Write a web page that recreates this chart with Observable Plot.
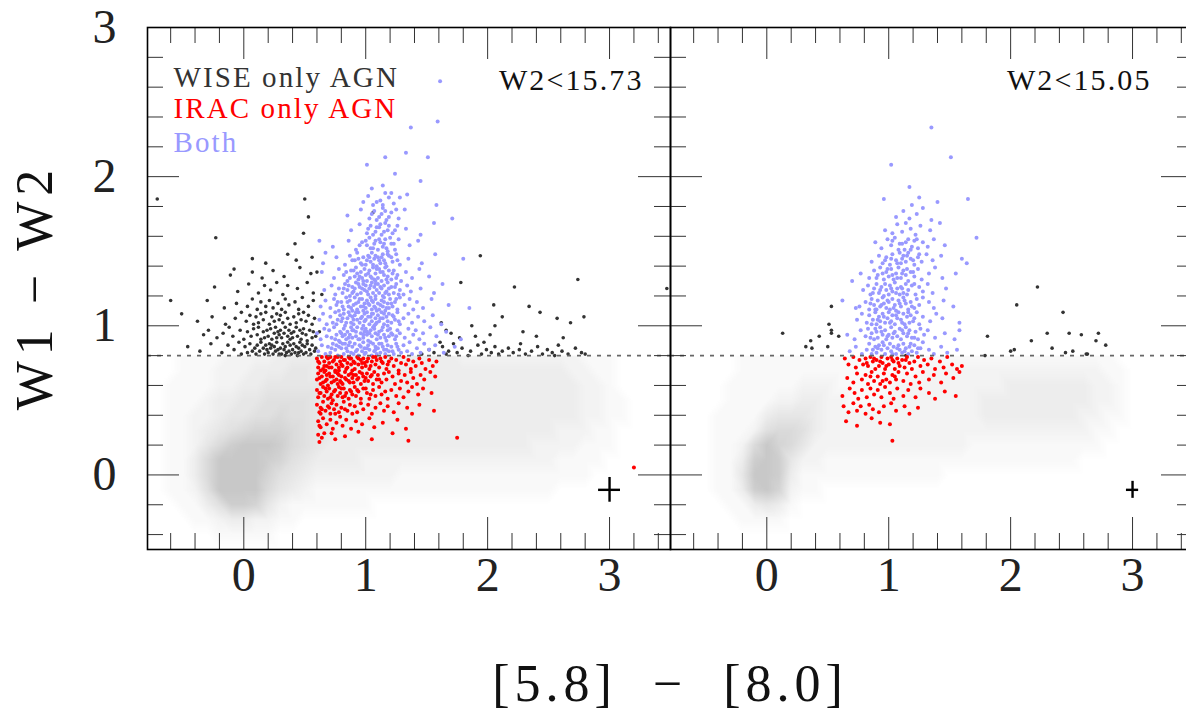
<!DOCTYPE html>
<html><head><meta charset="utf-8">
<script src="https://cdn.jsdelivr.net/npm/d3@7"></script>
<script src="https://cdn.jsdelivr.net/npm/@observablehq/plot@0.6"></script>
<style>
html,body{margin:0;padding:0;background:#fff;overflow:hidden;}
#wrap{position:relative;width:1200px;height:715px;}
#left,#right{position:absolute;top:0;}
#left{left:0;width:670px;} #right{left:670px;width:523px;}
.lbl{position:absolute;color:#111;font-family:"Liberation Serif",serif;white-space:pre;line-height:1;}
#xlab{left:670px;top:684px;font-size:52px;letter-spacing:5px;transform:translate(-50%,-50%);}
#ylab{left:35px;top:287px;font-size:52px;letter-spacing:6px;transform:translate(-50%,-50%) rotate(-90deg);}
</style></head><body>
<div id="wrap"><div id="left"></div><div id="right"></div>
<div class="lbl" id="xlab">[5.8]  −  [8.0]</div>
<div class="lbl" id="ylab">W1 − W2</div></div>
<script>
// ---------- axis / tick values ----------
const xDom = [-0.79, 3.5];
const yDom = [-0.5, 3];
const xMajor = [0, 1, 2, 3];
const xMinor = [-0.6,-0.4,-0.2,0.2,0.4,0.6,0.8,1.2,1.4,1.6,1.8,2.2,2.4,2.6,2.8,3.2,3.4];
const yMajor = [0, 1, 2, 3];
const yMinor = [-0.4,-0.2,0.2,0.4,0.6,0.8,1.2,1.4,1.6,1.8,2.2,2.4,2.6,2.8];
const wiseCut = 0.8;
const legendLabels = ["WISE only AGN", "IRAC only AGN", "Both"];
const legendColors = ["#333333", "#ff0000", "#9999ff"];
const cutLabels = ["W2<15.73", "W2<15.05"];

// ---------- typical error crosses ----------
const errX = [3.0, 3.0], errY = [-0.1, -0.1], errDX = [0.09, 0.05], errDY = [0.083, 0.057];

// ---------- gray background cloud: density levels (0-9) on a grid ----------
const fogX = [-0.8,-0.7,-0.6,-0.5,-0.4,-0.3,-0.2,-0.1,0,0.1,0.2,0.3,0.4,0.5,0.6,0.7,0.8,0.9,1,1.1,1.2,1.3,1.4,1.5,1.6,1.7,1.8,1.9,2,2.1,2.2,2.3,2.4,2.5,2.6,2.7,2.8,2.9,3,3.1,3.2,3.3,3.4,3.5];
const fogY = [0.8,0.7,0.6,0.5,0.4,0.3,0.2,0.1,0,-0.1,-0.2,-0.3,-0.4,-0.5];
const leftFog = [
"00011 11222 23333 33333 33333 32222 22222 21110 0000",
"00011 12223 33443 33333 33333 33333 33333 22110 0000",
"00111 12233 44444 43333 33333 33333 33333 32210 0000",
"00111 23344 55554 44333 33333 33333 33333 32211 0000",
"00112 23445 56554 43333 33333 33333 33333 32211 0000",
"00112 34567 77654 43333 33333 33333 33332 22110 0000",
"00112 46899 98654 33333 33333 33333 33222 21110 0000",
"00113 69999 87543 33322 22222 22222 22221 11100 0000",
"00113 69999 75432 22222 21111 11111 11111 11000 0000",
"00112 59999 64321 11111 11111 11111 11110 00000 0000",
"00011 35887 42111 11110 00000 00000 00000 00000 0000",
"00001 12332 21100 00000 00000 00000 00000 00000 0000",
"00000 01111 10000 00000 00000 00000 00000 00000 0000",
"00000 00000 00000 00000 00000 00000 00000 00000 0000"];
const rightFog = [
"00000 01111 11111 11111 11111 11111 11111 11000 0000",
"00000 01111 11111 11111 12222 22222 22222 21100 0000",
"00000 11111 12221 11112 22222 22233 33333 22100 0000",
"00000 11112 23322 11122 22222 23333 33333 22100 0000",
"00001 11134 44322 22222 22222 23333 33332 21100 0000",
"00001 11256 65322 22222 22222 22222 22222 11000 0000",
"00001 12697 64222 22222 22222 11111 11111 10000 0000",
"00001 13898 42211 11111 11111 11111 11110 00000 0000",
"00001 14998 31111 11111 11100 00000 00000 00000 0000",
"00001 13897 21100 00000 00000 00000 00000 00000 0000",
"00000 11343 10000 00000 00000 00000 00000 00000 0000",
"00000 01111 00000 00000 00000 00000 00000 00000 0000",
"00000 00000 00000 00000 00000 00000 00000 00000 0000",
"00000 00000 00000 00000 00000 00000 00000 00000 0000"];

// ---------- left panel (W2<15.73) ----------
const leftBoth = [
[0.61,0.83],[0.64,0.87],[0.67,0.81],[0.69,0.86],[0.71,0.82],[0.73,0.88],[0.75,0.84],[0.77,0.80],[0.78,0.86],[0.79,0.89],
[0.80,0.85],[0.82,0.81],[0.83,0.88],[0.85,0.83],[0.86,0.87],[0.88,0.82],[0.89,0.86],
[0.90,0.81],[0.91,0.88],[0.93,0.84],[0.94,0.80],[0.95,0.87],[0.97,0.83],[0.98,0.89],[0.99,0.85],
[1.00,0.82],[1.02,0.87],[1.03,0.84],[1.05,0.80],[1.06,0.88],[1.07,0.83],[1.08,0.86],[1.09,0.81],
[1.10,0.85],[1.12,0.82],[1.13,0.88],[1.15,0.84],[1.16,0.81],[1.18,0.87],[1.19,0.83],
[1.21,0.86],[1.23,0.81],[1.25,0.88],[1.27,0.84],[1.29,0.82],[1.31,0.87],[1.34,0.83],[1.36,0.89],[1.38,0.81],
[1.42,0.85],[1.45,0.82],[1.48,0.88],[1.52,0.84],[1.57,0.87],[1.64,0.82],[1.73,0.86],
[0.60,0.95],[0.63,0.91],[0.66,0.98],[0.68,0.93],[0.70,0.97],[0.72,0.92],[0.74,0.99],[0.76,0.94],[0.78,0.90],[0.79,0.96],
[0.81,0.93],[0.82,0.98],[0.84,0.91],[0.85,0.96],[0.87,0.94],[0.88,0.99],[0.89,0.92],
[0.90,0.97],[0.92,0.93],[0.93,0.99],[0.94,0.91],[0.96,0.95],[0.97,0.98],[0.98,0.92],[0.99,0.96],
[1.01,0.94],[1.02,0.90],[1.04,0.97],[1.05,0.93],[1.06,0.99],[1.08,0.95],[1.09,0.91],[1.00,0.98],
[1.11,0.96],[1.12,0.92],[1.14,0.99],[1.15,0.94],[1.17,0.90],[1.18,0.97],[1.19,0.93],
[1.20,0.98],[1.22,0.94],[1.24,0.91],[1.26,0.97],[1.28,0.95],[1.32,0.92],[1.35,0.98],[1.39,0.94],
[1.41,0.97],[1.44,0.91],[1.47,0.95],[1.53,0.99],[1.58,0.93],[1.66,0.96],[1.78,0.91],
[0.62,1.04],[0.65,1.08],[0.68,1.01],[0.71,1.06],[0.73,1.02],[0.75,1.09],[0.77,1.04],[0.79,1.07],
[0.80,1.03],[0.82,1.08],[0.83,1.00],[0.85,1.05],[0.86,1.09],[0.88,1.02],[0.89,1.06],
[0.90,1.01],[0.91,1.07],[0.93,1.04],[0.94,1.09],[0.95,1.02],[0.97,1.06],[0.98,1.00],[0.99,1.08],
[1.00,1.04],[1.01,1.09],[1.03,1.01],[1.04,1.06],[1.05,1.03],[1.06,1.08],[1.07,1.00],[1.08,1.05],[1.09,1.02],
[1.10,1.07],[1.11,1.03],[1.13,1.09],[1.14,1.05],[1.15,1.01],[1.17,1.06],[1.18,1.03],[1.19,1.08],
[1.21,1.02],[1.22,1.07],[1.24,1.04],[1.26,1.09],[1.28,1.01],[1.31,1.05],[1.35,1.08],[1.38,1.02],
[1.43,1.06],[1.48,1.03],[1.55,1.07],[1.62,1.01],
[0.63,1.13],[0.67,1.17],[0.71,1.12],[0.74,1.18],[0.76,1.14],[0.78,1.10],
[0.80,1.16],[0.82,1.11],[0.84,1.19],[0.86,1.13],[0.87,1.17],[0.89,1.10],
[0.90,1.14],[0.91,1.19],[0.93,1.11],[0.94,1.16],[0.96,1.13],[0.97,1.18],[0.98,1.10],[0.99,1.15],
[1.00,1.12],[1.01,1.17],[1.03,1.14],[1.04,1.19],[1.05,1.11],[1.06,1.16],[1.07,1.13],[1.08,1.18],[1.09,1.10],
[1.10,1.15],[1.11,1.11],[1.13,1.17],[1.14,1.13],[1.15,1.19],[1.16,1.10],[1.18,1.15],[1.19,1.12],
[1.20,1.18],[1.22,1.13],[1.24,1.16],[1.26,1.11],[1.28,1.19],[1.32,1.14],[1.36,1.18],[1.39,1.11],
[1.42,1.16],[1.47,1.12],[1.54,1.18],[1.68,1.14],
[0.66,1.24],[0.72,1.27],[0.75,1.21],[0.78,1.25],
[0.81,1.22],[0.83,1.28],[0.85,1.24],[0.87,1.20],[0.89,1.26],
[0.90,1.23],[0.92,1.29],[0.93,1.21],[0.95,1.26],[0.96,1.22],[0.98,1.28],[0.99,1.24],
[1.00,1.27],[1.02,1.21],[1.03,1.25],[1.05,1.29],[1.06,1.22],[1.07,1.26],[1.08,1.20],[1.09,1.24],
[1.10,1.28],[1.11,1.22],[1.13,1.25],[1.14,1.20],[1.15,1.27],[1.17,1.23],[1.18,1.29],[1.19,1.21],
[1.21,1.26],[1.23,1.22],[1.25,1.28],[1.28,1.24],[1.31,1.21],[1.34,1.27],[1.37,1.23],
[1.45,1.25],[1.56,1.22],[1.63,1.28],
[0.64,1.36],[0.74,1.32],[0.78,1.38],[0.82,1.34],[0.85,1.30],[0.88,1.37],
[0.91,1.33],[0.92,1.39],[0.94,1.31],[0.96,1.36],[0.97,1.32],[0.99,1.38],
[1.00,1.34],[1.01,1.30],[1.03,1.37],[1.04,1.33],[1.06,1.39],[1.07,1.31],[1.08,1.35],[1.09,1.38],
[1.10,1.32],[1.12,1.36],[1.13,1.30],[1.15,1.34],[1.16,1.39],[1.18,1.33],[1.19,1.37],
[1.21,1.31],[1.23,1.37],[1.26,1.34],[1.29,1.30],[1.33,1.36],[1.38,1.32],[1.44,1.38],[1.52,1.33],
[0.65,1.42],[0.76,1.46],[0.83,1.41],[0.87,1.47],
[0.91,1.44],[0.93,1.49],[0.96,1.42],[0.98,1.46],
[1.00,1.41],[1.02,1.47],[1.04,1.43],[1.05,1.49],[1.07,1.45],[1.09,1.40],
[1.10,1.46],[1.12,1.42],[1.14,1.48],[1.15,1.44],[1.17,1.40],[1.19,1.47],
[1.22,1.43],[1.25,1.48],[1.28,1.41],[1.35,1.45],[1.46,1.42],[1.57,1.48],
[0.73,1.53],[0.86,1.57],[0.92,1.51],[0.97,1.56],
[1.01,1.54],[1.03,1.59],[1.06,1.52],[1.08,1.57],
[1.10,1.51],[1.12,1.56],[1.14,1.53],[1.16,1.58],[1.18,1.50],
[1.21,1.55],[1.24,1.51],[1.27,1.58],[1.36,1.54],[1.43,1.57],
[0.88,1.64],[0.95,1.68],[1.01,1.62],[1.04,1.67],[1.08,1.63],
[1.11,1.66],[1.13,1.61],[1.16,1.69],[1.18,1.64],[1.22,1.62],[1.26,1.67],[1.33,1.65],[1.45,1.61],[1.56,1.69],
[0.85,1.74],[0.96,1.78],[1.03,1.72],[1.07,1.77],[1.11,1.73],[1.14,1.79],[1.17,1.71],[1.21,1.76],[1.27,1.72],[1.32,1.78],
[0.98,1.83],[1.02,1.87],[1.06,1.81],[1.12,1.84],[1.16,1.89],[1.23,1.82],[1.28,1.86],[1.34,1.88],[1.58,1.81],
[1.05,1.92],[1.14,1.94],
[1.61,2.64],[1.59,2.37],[1.37,2.33],[1.33,2.16],[1.51,2.13],[1.16,2.13],[1.01,2.08],[1.24,2.02],
[1.45,1.97],[1.71,1.72],[1.80,1.45],[1.85,1.12],[0.62,1.57],[0.67,1.49],
[0.81,0.88],[0.84,0.85],[0.87,0.89],[0.92,0.83],[0.96,0.86],[0.99,0.81],[1.01,0.85],[1.04,0.89],[1.08,0.84],[1.11,0.88],
[1.14,0.86],[1.17,0.84],[1.22,0.83],[1.26,0.86],[0.76,0.87],[0.72,0.85],
[0.80,0.95],[0.83,0.94],[0.86,0.92],[0.89,0.97],[0.92,0.96],[0.95,0.91],[0.98,0.94],[1.01,0.96],[1.03,0.95],[1.07,0.98],
[1.10,0.94],[1.13,0.97],[1.16,0.92],[1.21,0.95],[1.25,0.93],[0.75,0.91],
[0.81,1.05],[0.84,1.02],[0.87,1.07],[0.90,1.04],[0.92,1.09],[0.96,1.05],[0.99,1.03],[1.02,1.06],[1.05,1.08],[1.08,1.01],
[1.12,1.05],[1.15,1.08],[1.18,1.00],[1.23,1.06],[1.27,1.03],[0.76,1.01],
[0.81,1.13],[0.85,1.16],[0.88,1.12],[0.92,1.15],[0.95,1.18],[0.98,1.13],[1.02,1.15],[1.05,1.17],[1.08,1.12],[1.12,1.14],
[1.15,1.16],[1.17,1.12],[1.21,1.15],[1.25,1.18],[0.77,1.16],
[0.82,1.25],[0.86,1.27],[0.89,1.22],[0.91,1.25],[0.94,1.28],[0.97,1.25],[1.01,1.23],[1.04,1.27],[1.08,1.28],[1.12,1.26],
[1.16,1.22],[1.19,1.25],[1.24,1.26],[1.27,1.21],
[0.84,1.36],[0.87,1.32],[0.90,1.37],[0.93,1.35],[0.95,1.33],[0.98,1.30],[1.02,1.35],[1.05,1.32],[1.08,1.30],[1.11,1.38],
[1.14,1.36],[1.17,1.31],[1.22,1.35],[1.25,1.32],
[0.89,1.44],[0.94,1.45],[0.97,1.41],[1.01,1.44],[1.03,1.46],[1.06,1.41],[1.08,1.47],[1.11,1.44],[1.13,1.46],[1.16,1.42],
[1.18,1.48],[1.21,1.46],[1.26,1.44],
[0.95,1.54],[1.00,1.57],[1.04,1.52],[1.07,1.55],[1.11,1.58],[1.15,1.55],[1.17,1.52],[1.20,1.59],[1.23,1.55],
[1.02,1.65],[1.06,1.61],[1.09,1.66],[1.12,1.68],[1.15,1.63],[1.19,1.67],[1.24,1.64],
[1.05,1.75],[1.09,1.71],[1.13,1.75],[1.16,1.77],[1.19,1.73],[1.25,1.78],
[1.09,1.83],[1.14,1.81],[1.19,1.86],[1.21,1.89]];

const leftIrac = [
[0.60,0.78],[0.61,0.72],[0.62,0.75],[0.64,0.79],[0.65,0.71],[0.66,0.76],[0.68,0.73],[0.69,0.78],[0.67,0.70],
[0.70,0.75],[0.71,0.79],[0.72,0.72],[0.74,0.77],[0.75,0.70],[0.76,0.74],[0.77,0.79],[0.78,0.72],[0.79,0.76],
[0.80,0.79],[0.81,0.73],[0.83,0.77],[0.84,0.71],[0.85,0.75],[0.86,0.79],[0.88,0.74],[0.89,0.70],[0.87,0.78],
[0.90,0.76],[0.91,0.71],[0.93,0.79],[0.94,0.74],[0.96,0.77],[0.97,0.72],[0.98,0.78],[0.99,0.75],
[1.00,0.73],[1.02,0.78],[1.03,0.71],[1.05,0.76],[1.06,0.79],[1.08,0.74],[1.09,0.77],
[1.11,0.72],[1.12,0.78],[1.14,0.75],[1.16,0.79],[1.17,0.71],[1.19,0.76],
[1.21,0.78],[1.23,0.73],[1.25,0.77],[1.27,0.70],[1.29,0.75],
[1.31,0.79],[1.33,0.74],[1.35,0.77],[1.37,0.71],[1.39,0.76],
[1.41,0.73],[1.44,0.78],[1.46,0.75],[1.49,0.71],[1.52,0.77],[1.55,0.73],[1.58,0.76],
[0.60,0.64],[0.61,0.68],[0.63,0.61],[0.64,0.66],[0.66,0.69],[0.67,0.63],[0.68,0.67],[0.69,0.60],
[0.70,0.68],[0.72,0.62],[0.73,0.66],[0.75,0.69],[0.76,0.64],[0.77,0.61],[0.78,0.67],[0.79,0.63],
[0.80,0.66],[0.81,0.61],[0.83,0.69],[0.84,0.64],[0.86,0.67],[0.87,0.62],[0.88,0.68],[0.89,0.65],
[0.90,0.62],[0.92,0.67],[0.93,0.64],[0.95,0.69],[0.96,0.61],[0.98,0.66],[0.99,0.63],
[1.01,0.68],[1.02,0.63],[1.04,0.66],[1.06,0.61],[1.07,0.69],[1.09,0.64],
[1.10,0.67],[1.13,0.62],[1.15,0.68],[1.17,0.64],[1.19,0.69],
[1.22,0.66],[1.24,0.61],[1.27,0.68],[1.29,0.63],[1.32,0.67],[1.34,0.62],[1.37,0.69],[1.39,0.65],
[1.42,0.61],[1.45,0.67],[1.48,0.64],[1.53,0.69],[1.57,0.66],
[0.60,0.57],[0.61,0.52],[0.63,0.55],[0.65,0.59],[0.66,0.53],[0.68,0.56],[0.69,0.51],
[0.70,0.58],[0.72,0.54],[0.73,0.50],[0.75,0.57],[0.77,0.53],[0.78,0.59],[0.79,0.55],
[0.81,0.52],[0.82,0.58],[0.84,0.55],[0.86,0.51],[0.87,0.57],[0.89,0.54],
[0.91,0.59],[0.92,0.53],[0.94,0.56],[0.96,0.51],[0.98,0.58],
[1.01,0.55],[1.03,0.51],[1.06,0.57],[1.08,0.53],[1.11,0.59],[1.13,0.54],[1.16,0.56],[1.18,0.51],
[1.21,0.57],[1.25,0.53],[1.28,0.58],[1.31,0.52],[1.35,0.56],[1.38,0.59],[1.43,0.54],[1.47,0.58],[1.54,0.55],
[0.60,0.47],[0.62,0.42],[0.63,0.45],[0.65,0.49],[0.67,0.43],[0.69,0.46],
[0.71,0.41],[0.72,0.48],[0.74,0.44],[0.76,0.47],[0.78,0.42],
[0.80,0.45],[0.82,0.49],[0.85,0.43],[0.87,0.47],[0.89,0.41],
[0.91,0.46],[0.93,0.42],[0.96,0.48],[0.98,0.44],[1.02,0.47],[1.05,0.41],[1.08,0.45],
[1.12,0.48],[1.15,0.43],[1.18,0.46],[1.23,0.42],[1.27,0.48],[1.34,0.45],[1.38,0.41],[1.44,0.47],[1.56,0.43],
[0.61,0.36],[0.63,0.32],[0.65,0.38],[0.68,0.34],[0.71,0.37],[0.73,0.31],[0.76,0.35],[0.79,0.39],
[0.81,0.33],[0.84,0.37],[0.88,0.31],[0.92,0.36],[0.97,0.34],[1.03,0.38],[1.07,0.32],[1.14,0.35],[1.26,0.37],[1.33,0.31],
[0.61,0.27],[0.62,0.22],[0.64,0.25],[0.72,0.28],[0.75,0.24],[0.83,0.26],[0.94,0.29],[1.05,0.24],[1.22,0.28],
[1.35,0.23],[1.75,0.25],[3.20,0.05],
[0.61,0.76],[0.63,0.70],[0.66,0.73],[0.68,0.79],[0.70,0.72],[0.73,0.76],[0.75,0.79],[0.78,0.70],[0.80,0.74],[0.82,0.77],
[0.85,0.72],[0.88,0.78],[0.91,0.75],[0.94,0.78],[0.97,0.75],[1.01,0.76],[1.04,0.73],[1.08,0.79],[1.13,0.76],[1.18,0.74],
[0.62,0.65],[0.65,0.62],[0.68,0.64],[0.71,0.66],[0.74,0.63],[0.77,0.68],[0.80,0.62],[0.83,0.65],[0.86,0.63],[0.90,0.67],
[0.94,0.65],[0.97,0.68],[1.00,0.65],[1.05,0.67],[1.11,0.64],
[0.62,0.55],[0.67,0.58],[0.71,0.52],[0.74,0.56],[0.80,0.58],[0.83,0.53],[0.88,0.56],[0.93,0.57],[1.00,0.58],[1.04,0.54],
[0.64,0.44],[0.70,0.45],[0.75,0.41],[0.83,0.44],[0.63,0.41],[0.66,0.28],[0.62,0.33]];

const leftWise = [
[-0.46,0.86],[-0.36,0.83],[-0.27,0.88],[-0.18,0.82],[-0.13,0.87],[-0.08,0.84],[-0.04,0.89],[-0.02,0.81],
[0.01,0.86],[0.03,0.82],[0.05,0.88],[0.07,0.83],[0.09,0.85],
[0.10,0.81],[0.11,0.87],[0.13,0.83],[0.14,0.89],[0.16,0.85],[0.17,0.81],[0.18,0.87],[0.19,0.84],
[0.20,0.82],[0.21,0.88],[0.22,0.85],[0.24,0.81],[0.25,0.86],[0.26,0.83],[0.27,0.89],[0.28,0.84],[0.29,0.81],[0.23,0.87],
[0.30,0.85],[0.31,0.81],[0.32,0.88],[0.33,0.84],[0.34,0.86],[0.35,0.82],[0.36,0.89],[0.37,0.83],[0.38,0.87],[0.39,0.81],[0.34,0.80],
[0.40,0.84],[0.41,0.88],[0.42,0.82],[0.43,0.86],[0.44,0.80],[0.45,0.85],[0.46,0.89],[0.47,0.83],[0.48,0.87],[0.49,0.81],[0.45,0.82],
[0.50,0.86],[0.51,0.82],[0.52,0.88],[0.54,0.84],[0.55,0.81],[0.56,0.87],[0.58,0.83],[0.59,0.85],
[-0.33,0.94],[-0.29,0.97],[-0.22,0.92],[-0.17,0.95],[-0.12,0.99],[-0.09,0.93],[-0.03,0.97],
[0.00,0.91],[0.03,0.96],[0.06,0.93],[0.08,0.98],
[0.11,0.94],[0.12,0.99],[0.14,0.91],[0.16,0.96],[0.17,0.92],[0.19,0.97],
[0.20,0.93],[0.22,0.98],[0.23,0.91],[0.25,0.95],[0.26,0.99],[0.27,0.92],[0.28,0.96],[0.29,0.94],
[0.30,0.97],[0.31,0.92],[0.33,0.95],[0.34,0.99],[0.36,0.93],[0.37,0.97],[0.38,0.91],[0.39,0.95],
[0.40,0.92],[0.41,0.96],[0.43,0.99],[0.44,0.93],[0.46,0.97],[0.47,0.91],[0.48,0.95],[0.49,0.98],
[0.51,0.94],[0.52,0.90],[0.54,0.97],[0.56,0.92],[0.57,0.96],[0.59,0.93],
[-0.51,1.08],[-0.38,1.03],[-0.26,1.06],[-0.15,1.01],[-0.07,1.05],[-0.02,1.09],
[0.02,1.03],[0.05,1.07],[0.08,1.01],[0.10,1.06],[0.12,1.02],[0.14,1.08],[0.16,1.04],[0.18,1.09],
[0.21,1.01],[0.23,1.06],[0.25,1.03],[0.27,1.08],[0.29,1.04],[0.30,1.07],[0.32,1.02],[0.34,1.09],[0.36,1.05],[0.38,1.01],
[0.41,1.06],[0.43,1.02],[0.45,1.08],[0.47,1.04],[0.49,1.09],[0.51,1.03],[0.53,1.07],[0.56,1.01],[0.58,1.05],
[-0.30,1.17],[-0.16,1.12],[-0.06,1.15],[0.03,1.13],[0.07,1.18],[0.11,1.11],[0.14,1.16],[0.18,1.13],
[0.21,1.17],[0.24,1.12],[0.28,1.15],[0.31,1.11],[0.34,1.18],[0.37,1.14],[0.42,1.16],[0.45,1.11],[0.48,1.19],[0.53,1.13],[0.57,1.17],
[-0.24,1.26],[-0.05,1.23],[0.04,1.28],[0.12,1.22],[0.17,1.27],[0.22,1.24],[0.27,1.29],[0.32,1.21],[0.36,1.27],[0.44,1.25],[0.52,1.29],[0.57,1.22],
[-0.11,1.34],[-0.08,1.38],[0.07,1.36],[0.15,1.32],[0.24,1.37],[0.33,1.33],[0.46,1.39],[0.55,1.35],
[0.07,1.45],[0.18,1.42],[0.36,1.48],[0.43,1.44],[0.56,1.46],
[-0.71,1.85],[-0.23,1.59],[0.50,1.85],[0.53,1.73],[0.49,1.62],[0.42,1.55],[-0.60,1.17],[0.60,1.36],[0.64,1.21],[0.62,0.96],
[1.46,0.81],[1.52,0.84],[1.56,0.82],[1.63,0.86],[1.66,0.81],[1.68,0.83],[1.72,0.88],[1.75,0.82],[1.79,0.85],[1.84,0.80],
[1.86,0.83],[1.92,0.87],[1.95,0.81],[1.99,0.84],[2.03,0.82],[2.06,0.86],[2.09,0.81],[2.12,0.83],[2.17,0.85],[2.21,0.82],
[2.26,0.84],[2.31,0.81],[2.36,0.83],[2.41,0.86],[2.45,0.81],[2.49,0.84],[2.53,0.82],[2.55,0.80],[2.61,0.83],[2.66,0.81],
[2.72,0.85],[2.77,0.82],[2.80,0.81],[1.61,0.89],[1.97,0.89],[2.27,0.88],[2.58,0.87],
[1.70,0.95],[1.77,0.92],[1.87,1.00],[1.90,0.93],[2.06,1.00],[2.12,1.06],[2.02,0.94],[2.29,0.96],[2.34,1.13],[2.43,1.09],
[2.40,0.93],[2.57,1.05],[2.68,1.02],[2.79,1.06],[2.62,0.92],[2.05,1.14],[1.78,1.29],[2.22,1.26],[2.74,1.31],[1.94,1.47],
[3.47,1.25],[1.62,1.02],[1.66,0.97],[1.06,1.76]];

// ---------- right panel (W2<15.05) ----------
const rightBoth = [
[0.68,0.83],[0.73,0.86],[0.78,0.81],[0.82,0.84],[0.84,0.88],[0.86,0.81],[0.89,0.86],
[0.90,0.82],[0.92,0.87],[0.94,0.84],[0.95,0.89],[0.97,0.81],[0.99,0.85],
[1.01,0.88],[1.02,0.83],[1.04,0.86],[1.06,0.81],[1.08,0.87],[1.09,0.84],
[1.11,0.82],[1.12,0.88],[1.14,0.85],[1.16,0.81],[1.17,0.86],[1.19,0.83],
[1.21,0.87],[1.23,0.82],[1.26,0.85],[1.28,0.89],[1.33,0.84],[1.37,0.81],[1.43,0.86],[1.48,0.82],[1.56,0.84],
[0.66,0.94],[0.72,0.91],[0.77,0.97],[0.81,0.93],[0.83,0.98],[0.86,0.95],[0.88,0.91],
[0.90,0.96],[0.91,0.92],[0.93,0.99],[0.95,0.94],[0.97,0.97],[0.98,0.91],
[1.00,0.94],[1.02,0.99],[1.03,0.92],[1.05,0.96],[1.07,0.93],[1.09,0.98],
[1.10,0.91],[1.12,0.95],[1.14,0.99],[1.15,0.93],[1.17,0.97],[1.19,0.92],
[1.22,0.96],[1.24,0.91],[1.26,0.98],[1.29,0.94],[1.32,0.97],[1.38,0.92],[1.46,0.95],[1.54,0.91],
[0.74,1.04],[0.78,1.08],[0.82,1.02],[0.84,1.07],[0.87,1.04],[0.89,1.09],
[0.90,1.01],[0.92,1.06],[0.93,1.03],[0.95,1.08],[0.97,1.02],[0.99,1.05],
[1.00,1.09],[1.02,1.03],[1.03,1.07],[1.05,1.01],[1.07,1.05],[1.08,1.09],
[1.10,1.04],[1.12,1.08],[1.13,1.01],[1.15,1.06],[1.17,1.02],[1.18,1.07],
[1.21,1.05],[1.23,1.09],[1.25,1.01],[1.28,1.06],[1.34,1.03],[1.39,1.08],[1.44,1.05],[1.58,1.02],
[0.76,1.13],[0.81,1.16],[0.84,1.11],[0.86,1.18],[0.88,1.14],
[0.90,1.11],[0.91,1.17],[0.93,1.13],[0.95,1.19],[0.96,1.15],[0.98,1.12],
[1.00,1.16],[1.01,1.11],[1.03,1.18],[1.05,1.14],[1.06,1.10],[1.08,1.17],
[1.10,1.13],[1.12,1.19],[1.14,1.15],[1.16,1.11],[1.18,1.16],
[1.21,1.12],[1.23,1.18],[1.25,1.14],[1.28,1.19],[1.33,1.16],[1.37,1.12],[1.45,1.17],[1.53,1.13],
[0.79,1.24],[0.83,1.27],[0.85,1.21],[0.88,1.25],
[0.90,1.28],[0.92,1.22],[0.94,1.26],[0.96,1.20],[0.98,1.24],
[1.00,1.21],[1.01,1.27],[1.03,1.23],[1.05,1.29],[1.07,1.25],[1.09,1.21],
[1.10,1.26],[1.12,1.22],[1.14,1.28],[1.16,1.24],[1.19,1.27],
[1.22,1.21],[1.25,1.26],[1.28,1.23],[1.32,1.28],[1.36,1.22],[1.47,1.25],
[0.77,1.35],[0.84,1.32],[0.88,1.37],[0.91,1.34],[0.93,1.39],[0.96,1.31],[0.98,1.36],
[1.00,1.33],[1.02,1.38],[1.04,1.31],[1.06,1.35],[1.08,1.39],
[1.10,1.32],[1.12,1.37],[1.14,1.34],[1.16,1.30],[1.18,1.36],
[1.21,1.33],[1.24,1.38],[1.27,1.31],[1.33,1.35],[1.38,1.39],[1.44,1.32],
[0.86,1.43],[0.92,1.47],[0.95,1.42],[0.98,1.46],[1.01,1.41],[1.03,1.48],[1.06,1.44],[1.09,1.49],
[1.10,1.42],[1.12,1.47],[1.14,1.43],[1.16,1.49],[1.18,1.45],[1.21,1.41],[1.24,1.46],[1.27,1.43],
[1.31,1.48],[1.36,1.44],[1.43,1.47],
[0.89,1.56],[0.94,1.52],[0.99,1.58],[1.02,1.54],[1.05,1.59],[1.08,1.51],
[1.11,1.55],[1.13,1.51],[1.16,1.58],[1.19,1.53],[1.21,1.57],[1.24,1.52],[1.28,1.56],[1.32,1.53],[1.37,1.58],[1.46,1.54],
[0.97,1.64],[1.03,1.62],[1.07,1.68],[1.11,1.63],[1.14,1.69],[1.18,1.65],[1.22,1.61],[1.26,1.67],[1.34,1.64],[1.42,1.69],
[1.06,1.73],[1.12,1.77],[1.17,1.72],[1.23,1.75],[1.28,1.79],[1.35,1.71],
[0.96,1.85],[1.19,1.81],[1.25,1.86],[1.40,1.83],[1.65,1.85],
[1.35,2.33],[1.51,2.13],[1.02,2.08],[1.17,1.93],[1.72,1.59],[1.60,1.45],[1.55,1.35],[0.70,1.30],[0.73,1.12],
[0.62,1.17],[1.58,0.97],[1.64,1.42],
[0.87,0.84],[0.91,0.85],[0.96,0.87],[1.03,0.81],[1.07,0.85],[1.13,0.83],[1.18,0.88],[1.24,0.85],
[0.85,0.92],[0.89,0.98],[0.94,0.96],[0.99,0.93],[1.04,0.95],[1.11,0.97],[1.16,0.95],[1.21,0.92],
[0.86,1.01],[0.91,1.04],[0.96,1.06],[1.01,1.02],[1.06,1.07],[1.11,1.02],[1.16,1.09],[1.20,1.03],
[0.85,1.15],[0.89,1.11],[0.94,1.14],[0.99,1.17],[1.04,1.12],[1.09,1.15],[1.13,1.17],[1.19,1.13],
[0.87,1.22],[0.93,1.24],[0.97,1.28],[1.02,1.25],[1.06,1.22],[1.11,1.25],[1.15,1.21],[1.21,1.28],
[0.90,1.32],[0.95,1.35],[0.99,1.38],[1.03,1.34],[1.07,1.32],[1.11,1.35],[1.15,1.38],[1.20,1.36],
[0.97,1.44],[1.02,1.45],[1.07,1.42],[1.11,1.45],[1.15,1.47],[1.20,1.44],[1.25,1.48],
[1.03,1.57],[1.09,1.55],[1.14,1.56],[1.18,1.51],[1.23,1.58]];

const rightIrac = [
[0.64,0.78],[0.67,0.74],[0.71,0.79],[0.73,0.72],[0.76,0.77],[0.79,0.74],
[0.81,0.78],[0.83,0.73],[0.85,0.79],[0.87,0.76],[0.89,0.71],
[0.90,0.77],[0.92,0.73],[0.94,0.79],[0.95,0.75],[0.97,0.71],[0.99,0.78],
[1.00,0.74],[1.02,0.79],[1.04,0.76],[1.05,0.71],[1.07,0.78],[1.09,0.73],
[1.11,0.77],[1.13,0.72],[1.15,0.79],[1.17,0.75],[1.19,0.71],
[1.21,0.76],[1.24,0.79],[1.26,0.73],[1.29,0.77],[1.32,0.74],[1.35,0.78],[1.38,0.71],
[1.42,0.76],[1.45,0.72],[1.48,0.79],[1.52,0.74],[1.56,0.71],[1.60,0.73],
[0.66,0.65],[0.71,0.62],[0.74,0.68],[0.78,0.64],[0.81,0.67],[0.83,0.61],[0.86,0.69],[0.88,0.63],
[0.91,0.66],[0.93,0.61],[0.96,0.68],[0.98,0.64],[1.01,0.62],[1.03,0.67],[1.06,0.64],[1.08,0.69],
[1.12,0.63],[1.15,0.68],[1.18,0.61],[1.22,0.66],[1.25,0.62],[1.28,0.69],[1.33,0.64],[1.37,0.67],
[1.43,0.62],[1.47,0.68],[1.53,0.65],[1.58,0.69],
[0.62,0.53],[0.68,0.58],[0.72,0.55],[0.75,0.51],[0.78,0.57],[0.82,0.52],[0.85,0.58],[0.88,0.54],
[0.91,0.57],[0.94,0.52],[0.97,0.59],[1.01,0.55],[1.04,0.51],[1.07,0.58],[1.12,0.53],[1.16,0.57],
[1.22,0.52],[1.26,0.58],[1.33,0.55],[1.38,0.51],[1.46,0.56],[1.55,0.53],
[0.63,0.46],[0.67,0.42],[0.71,0.48],[0.74,0.43],[0.77,0.46],[0.81,0.41],[0.84,0.47],[0.87,0.44],
[0.92,0.42],[0.96,0.46],[1.02,0.48],[1.06,0.43],[1.13,0.46],[1.17,0.41],[1.24,0.45],
[0.65,0.36],[0.74,0.33],[0.86,0.38],[0.93,0.35],[1.01,0.34],[1.03,0.23],
[0.82,0.75],[0.88,0.78],[0.93,0.76],[0.98,0.73],[1.03,0.77],[1.08,0.75],[1.14,0.77],[0.85,0.66],[0.95,0.63],[1.05,0.66]];

const rightWise = [
[0.13,0.95],[0.32,0.86],[0.36,0.90],[0.37,0.85],[0.43,0.93],[0.50,0.86],[0.51,1.01],[0.53,0.97],[0.53,0.95],[0.53,1.13],
[0.59,0.93],[1.14,0.80],[1.79,0.80],[1.81,0.93],[2.00,0.83],[2.03,0.84],[2.05,1.14],[2.17,0.90],[2.22,1.26],[2.30,0.95],
[2.34,0.85],[2.43,1.09],[2.45,0.82],[2.48,0.95],[2.51,0.83],[2.58,0.94],[2.62,0.81],[2.63,0.81],[2.70,0.90],[2.72,0.95],[2.78,0.87]];

// ---------- rendering ----------
const W = 523, H = 522, MT = 27, MB = 51;
const pxX = W / (xDom[1] - xDom[0]), pxY = H / (yDom[1] - yDom[0]);
const minorLen = 16, majorLen = 32;
const FONT = "Liberation Serif";

function fogTable(rows) {
  const t = [];
  rows.forEach((row, j) => {
    const s = row.replace(/ /g, "");
    for (let i = 0; i < fogX.length; i++) t.push({x: fogX[i], y: fogY[j], v: +(s[i] || 0)});
  });
  return t;
}

function tickMarks() {
  const st = {stroke: "#333", strokeWidth: 1};
  const m = [];
  for (const [arr, len] of [[xMinor, minorLen], [xMajor, majorLen]]) {
    m.push(Plot.ruleX(arr, {x: d => d, y1: yDom[0], y2: yDom[0] + len / pxY, ...st}));
    m.push(Plot.ruleX(arr, {x: d => d, y1: yDom[1], y2: yDom[1] - len / pxY, ...st}));
  }
  for (const [arr, len] of [[yMinor, minorLen], [yMajor, majorLen]]) {
    m.push(Plot.ruleY(arr, {y: d => d, x1: xDom[0], x2: xDom[0] + len / pxX, ...st}));
    m.push(Plot.ruleY(arr, {y: d => d, x1: xDom[1], x2: xDom[1] - len / pxX, ...st}));
  }
  return m;
}

function panel(o) {
  const err = [{x: errX[o.i], y: errY[o.i], ex: errDX[o.i], ey: errDY[o.i]}];
  const marks = [
    Plot.raster(fogTable(o.fog), {x: "x", y: "y", fillOpacity: "v", fill: "#c8c8c8",
      interpolate: "barycentric", x1: xDom[0], x2: xDom[1], y1: fogY[fogY.length - 1], y2: fogY[0]}),
    Plot.dot(o.wise, {x: d => d[0], y: d => d[1], r: 1.8, fill: legendColors[0]}),
    Plot.dot(o.both, {x: d => d[0], y: d => d[1], r: 2, fill: legendColors[2]}),
    Plot.dot(o.irac, {x: d => d[0], y: d => d[1], r: 2, fill: legendColors[1]}),
    Plot.ruleY([wiseCut], {stroke: "#666", strokeWidth: 1.6, strokeDasharray: "4,6"}),
    Plot.ruleY(err, {y: "y", x1: d => d.x - d.ex, x2: d => d.x + d.ex, stroke: "#000", strokeWidth: 2.4}),
    Plot.ruleX(err, {x: "x", y1: d => d.y - d.ey, y2: d => d.y + d.ey, stroke: "#000", strokeWidth: 2.4}),
    ...tickMarks(),
    Plot.frame({stroke: "#000", strokeWidth: 1.6}),
    Plot.text(xMajor, {x: d => d, text: d => String(d), frameAnchor: "bottom", dy: 41,
      fontSize: 48, fontFamily: FONT, fill: "#222"}),
    Plot.text([cutLabels[o.i]], {text: d => d, frameAnchor: "top-right", dx: o.cutDx, dy: 62,
      textAnchor: "end", lineAnchor: "bottom", fontSize: 30, fontFamily: FONT, fill: "#111", ariaLabel: () => "spaced"})
  ];
  if (o.i === 0) {
    marks.push(Plot.text(yMajor, {y: d => d, text: d => String(d), frameAnchor: "left", dx: -31,
      textAnchor: "end", fontSize: 48, fontFamily: FONT, fill: "#222"}));
    const base = [59, 90.5, 124];
    legendLabels.forEach((lab, k) => marks.push(Plot.text([lab], {text: d => d, frameAnchor: "top-left",
      dx: 26, dy: base[k], textAnchor: "start", lineAnchor: "bottom", fontSize: 29, fontFamily: FONT,
      fill: legendColors[k], ariaLabel: () => "spaced"})));
  }
  const svg = Plot.plot({
    width: o.ml + W, height: MT + H + MB,
    marginLeft: o.ml, marginRight: 0, marginTop: MT, marginBottom: MB,
    x: {domain: xDom, axis: null}, y: {domain: yDom, axis: null},
    opacity: {domain: [0, 9], range: [0, 1], clamp: true},
    style: {overflow: "visible", background: "transparent"},
    marks
  });
  svg.querySelectorAll('[aria-label="spaced"], [aria-label="spaced"] text').forEach(t => t.setAttribute("letter-spacing", "2.1"));
  return svg;
}

document.getElementById("left").append(panel({i: 0, ml: 147, fog: leftFog, both: leftBoth, irac: leftIrac, wise: leftWise, cutDx: -27}));
document.getElementById("right").append(panel({i: 1, ml: 0, fog: rightFog, both: rightBoth, irac: rightIrac, wise: rightWise, cutDx: -42}));
</script>
</body></html>
